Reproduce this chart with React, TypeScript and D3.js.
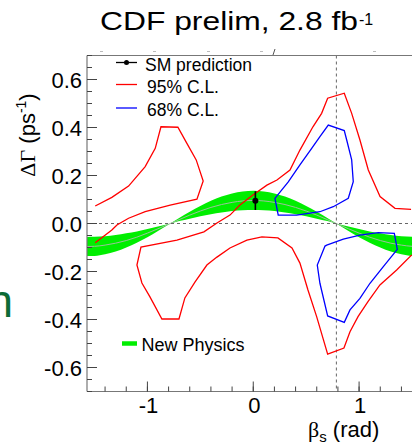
import React from 'react';
import * as d3 from 'd3';

// green "New Physics" band, sampled in beta_s
const bandBeta = [-1.6, -1.5, -1.4, -1.3, -1.2, -1.1, -1.0, -0.9, -0.8, -0.7, -0.6, -0.5, -0.4, -0.3, -0.2, -0.1, 0,
    0.1, 0.2, 0.3, 0.4, 0.5, 0.6, 0.7, 0.8, 0.9, 1.0, 1.1, 1.2, 1.3, 1.4, 1.5, 1.6];
const bandUpper = [-0.136, -0.135, -0.128, -0.117, -0.100, -0.080, -0.057, -0.031, -0.004, 0.023, 0.049, 0.073, 0.095, 0.112, 0.125, 0.133, 0.136,
    0.133, 0.125, 0.112, 0.095, 0.073, 0.049, 0.023, -0.004, -0.031, -0.057, -0.080, -0.100, -0.117, -0.128, -0.135, -0.136];
const bandLower = [-0.056, -0.055, -0.053, -0.048, -0.041, -0.033, -0.023, -0.013, -0.002, 0.010, 0.020, 0.030, 0.039, 0.046, 0.052, 0.055, 0.056,
    0.055, 0.052, 0.046, 0.039, 0.030, 0.020, 0.010, -0.002, -0.013, -0.023, -0.033, -0.041, -0.048, -0.053, -0.055, -0.056];
const bandCenter = [-0.096, -0.095, -0.090, -0.082, -0.071, -0.057, -0.040, -0.022, -0.003, 0.016, 0.035, 0.052, 0.067, 0.079, 0.088, 0.094, 0.096,
    0.094, 0.088, 0.079, 0.067, 0.052, 0.035, 0.016, -0.003, -0.022, -0.040, -0.057, -0.071, -0.082, -0.090, -0.095, -0.096];

// 95% C.L. contours [beta_s, dGamma]
const cl95A: [number, number][] = [
    [-1.493, 0.073], [-1.336, 0.109], [-1.178, 0.156], [-1.021, 0.237], [-0.926, 0.313], [-0.872, 0.403],
    [-0.712, 0.401], [-0.627, 0.334], [-0.539, 0.265], [-0.473, 0.177], [-0.532, 0.101], [-0.785, 0.077],
    [-1.021, 0.049], [-1.178, 0.022], [-1.288, -0.006], [-1.336, -0.027], [-1.493, -0.080]
];
const cl95B: [number, number][] = [
    [1.491, 0.059], [1.339, 0.063], [1.198, 0.112], [1.087, 0.223], [1.008, 0.348], [0.930, 0.459],
    [0.860, 0.543], [0.703, 0.522], [0.646, 0.459], [0.564, 0.403], [0.441, 0.306], [0.347, 0.223],
    [0.224, 0.181], [0.129, 0.160], [-0.003, 0.119], [-0.126, 0.077], [-0.220, 0.035], [-0.343, 0.002],
    [-0.466, -0.035], [-0.721, -0.069], [-1.061, -0.098], [-1.099, -0.173], [-1.052, -0.248], [-0.976, -0.306],
    [-0.863, -0.398], [-0.702, -0.398], [-0.646, -0.310], [-0.551, -0.244], [-0.438, -0.173], [-0.343, -0.140],
    [-0.220, -0.102], [-0.060, -0.069], [0.082, -0.056], [0.233, -0.060], [0.366, -0.102], [0.441, -0.165],
    [0.517, -0.277], [0.599, -0.388], [0.703, -0.544], [0.857, -0.519], [0.914, -0.451], [0.990, -0.388],
    [1.084, -0.326], [1.197, -0.256], [1.355, -0.194], [1.497, -0.131]
];

// 68% C.L. contours (closed)
const cl68Upper: [number, number][] = [
    [0.236, 0.035], [0.410, 0.035], [0.630, 0.049], [0.756, 0.070], [0.898, 0.105], [0.945, 0.174],
    [0.930, 0.265], [0.883, 0.348], [0.860, 0.387], [0.709, 0.410], [0.630, 0.362], [0.552, 0.313],
    [0.441, 0.244], [0.331, 0.173], [0.205, 0.105]
];
const cl68Lower: [number, number][] = [
    [0.694, -0.090], [0.851, -0.065], [1.008, -0.048], [1.181, -0.038], [1.333, -0.041], [1.361, -0.108],
    [1.229, -0.180], [1.103, -0.249], [1.008, -0.312], [0.914, -0.360], [0.860, -0.412], [0.703, -0.385],
    [0.630, -0.249], [0.605, -0.173], [0.678, -0.094]
];

// SM prediction
const smBeta = 0.02;
const smValue = 0.095;
const smErr = 0.039;

const yMajor = [-0.6, -0.4, -0.2, 0.0, 0.2, 0.4, 0.6];
const yMajorLabels = ['-0.6', '-0.4', '-0.2', '0.0', '0.2', '0.4', '0.6'];
const xMajor = [-1, 0, 1];
const xMajorLabels = ['-1', '0', '1'];

const SANS = '"Liberation Sans", Arial, Helvetica, sans-serif';
const SERIF = '"Liberation Serif", "Times New Roman", serif';

export default function App()
{
    const left = 87, top = 55.5, bottom = 391.5;
    const x = d3.scaleLinear().domain([-Math.PI / 2, Math.PI / 2]).range([left, 419.5]);
    const y = d3.scaleLinear().domain([-0.7, 0.7]).range([bottom, top]);
    const right = x(Math.PI / 2);

    const yMinor = d3.range(-14, 15).map(i => i * 0.05);
    const xMinor = d3.range(-7, 8).map(i => i * 0.2);

    const line = d3.line<[number, number]>().x(d => x(d[0])).y(d => y(d[1]));
    const closed = d3.line<[number, number]>().x(d => x(d[0])).y(d => y(d[1])).curve(d3.curveLinearClosed);

    const band = d3.area<number>()
        .x((d, i) => x(bandBeta[i]))
        .y0((d, i) => y(bandLower[i]))
        .y1((d, i) => y(bandUpper[i]))
        .curve(d3.curveMonotoneX);
    const center = d3.line<number>()
        .x((d, i) => x(bandBeta[i]))
        .y(d => y(d))
        .curve(d3.curveMonotoneX);

    return (
        <svg width={412} height={444} style={{position: 'absolute', left: 0, top: 0, background: '#fff'}}
             fontFamily={SANS}>
            <defs>
                <clipPath id="plot">
                    <rect x={left} y={top} width={right - left} height={bottom - top}/>
                </clipPath>
            </defs>

            {/* title */}
            <text x={100} y={30} fontSize={25.5} textLength={258} lengthAdjust="spacingAndGlyphs">CDF prelim, 2.8 fb</text>
            <text x={359} y={25} fontSize={16}>-1</text>

            {/* faint marks above the frame */}
            {[100, 153, 207, 260, 373].map((px, i) =>
                <line key={i} x1={px} x2={px + 3} y1={51.5} y2={51.5} stroke="#bbb" strokeWidth={1}/>)}
            <line x1={273} x2={275} y1={55} y2={49} stroke="#555" strokeWidth={1}/>

            {/* stray green letter at the left, cut by the page edge as in the source */}
            <text x={13} y={317} fontSize={46} fill="#0d6b36" textAnchor="end">n</text>

            <g clipPath="url(#plot)">
                <path d={band(bandBeta) || ''} fill="#00ee00"/>
                <path d={center(bandCenter) || ''} fill="none" stroke="#9cbf9c" strokeWidth={1}/>

                <line x1={left} x2={right} y1={y(0)} y2={y(0)} stroke="#666" strokeWidth={1} strokeDasharray="3,3"/>
                <line x1={x(Math.PI / 4)} x2={x(Math.PI / 4)} y1={top} y2={bottom} stroke="#666" strokeWidth={1}
                      strokeDasharray="3,3"/>

                <path d={line(cl95A) || ''} fill="none" stroke="#ff0000" strokeWidth={1.3}/>
                <path d={line(cl95B) || ''} fill="none" stroke="#ff0000" strokeWidth={1.3}/>
                <path d={closed(cl68Upper) || ''} fill="none" stroke="#0000ff" strokeWidth={1.3}/>
                <path d={closed(cl68Lower) || ''} fill="none" stroke="#0000ff" strokeWidth={1.3}/>

                <line x1={x(smBeta)} x2={x(smBeta)} y1={y(smValue - smErr)} y2={y(smValue + smErr)} stroke="#000"
                      strokeWidth={1.6}/>
                <circle cx={x(smBeta)} cy={y(smValue)} r={3} fill="#000"/>
            </g>

            {/* frame */}
            <line x1={left} x2={left} y1={top} y2={bottom} stroke="#777" strokeWidth={1.2}/>
            <line x1={left} x2={right} y1={bottom} y2={bottom} stroke="#777" strokeWidth={1.2}/>
            <line x1={left} x2={right} y1={top} y2={top} stroke="#777" strokeWidth={1.2}/>

            {yMinor.map((v, i) =>
                <line key={'ym' + i} x1={left} x2={left + 5} y1={y(v)} y2={y(v)} stroke="#444" strokeWidth={1}/>)}
            {yMajor.map((v, i) =>
                <line key={'yM' + i} x1={left} x2={left + 10} y1={y(v)} y2={y(v)} stroke="#444" strokeWidth={1}/>)}
            {xMinor.map((v, i) =>
                <line key={'xm' + i} x1={x(v)} x2={x(v)} y1={bottom} y2={bottom - 5} stroke="#444" strokeWidth={1}/>)}
            {xMajor.map((v, i) =>
                <line key={'xM' + i} x1={x(v)} x2={x(v)} y1={bottom} y2={bottom - 10} stroke="#444" strokeWidth={1}/>)}

            {yMajor.map((v, i) =>
                <text key={'yl' + i} x={82} y={y(v) + 8} fontSize={22} textAnchor="end">{yMajorLabels[i]}</text>)}
            {xMajor.map((v, i) =>
                <text key={'xl' + i} x={x(v) + 1} y={413} fontSize={22} textAnchor="middle">{xMajorLabels[i]}</text>)}

            {/* axis titles */}
            <text x={308} y={437} fontSize={22}>
                <tspan fontFamily={SERIF}>β</tspan>
                <tspan fontSize={15} dy={5}>s</tspan>
                <tspan dy={-5}> (rad)</tspan>
            </text>
            <text transform="translate(35,135) rotate(-90)" fontSize={22} textAnchor="middle">
                <tspan fontFamily={SERIF}>ΔΓ</tspan>
                <tspan> (ps</tspan>
                <tspan fontSize={14} dy={-9}>-1</tspan>
                <tspan dy={9}>)</tspan>
            </text>

            {/* legend */}
            <line x1={116} x2={137} y1={62.5} y2={62.5} stroke="#000" strokeWidth={1.3}/>
            <circle cx={126.5} cy={62.5} r={2.5} fill="#000"/>
            <text x={145} y={71} fontSize={17.5}>SM prediction</text>
            <line x1={116} x2={137} y1={84.5} y2={84.5} stroke="#ff0000" strokeWidth={1.3}/>
            <text x={147} y={92.5} fontSize={17.5}>95% C.L.</text>
            <line x1={116} x2={137} y1={108} y2={108} stroke="#0000ff" strokeWidth={1.3}/>
            <text x={147} y={115.5} fontSize={17.5}>68% C.L.</text>
            <line x1={122} x2={137} y1={343.5} y2={343.5} stroke="#00ee00" strokeWidth={4.5}/>
            <text x={141.5} y={350.5} fontSize={18}>New Physics</text>
        </svg>
    );
}
